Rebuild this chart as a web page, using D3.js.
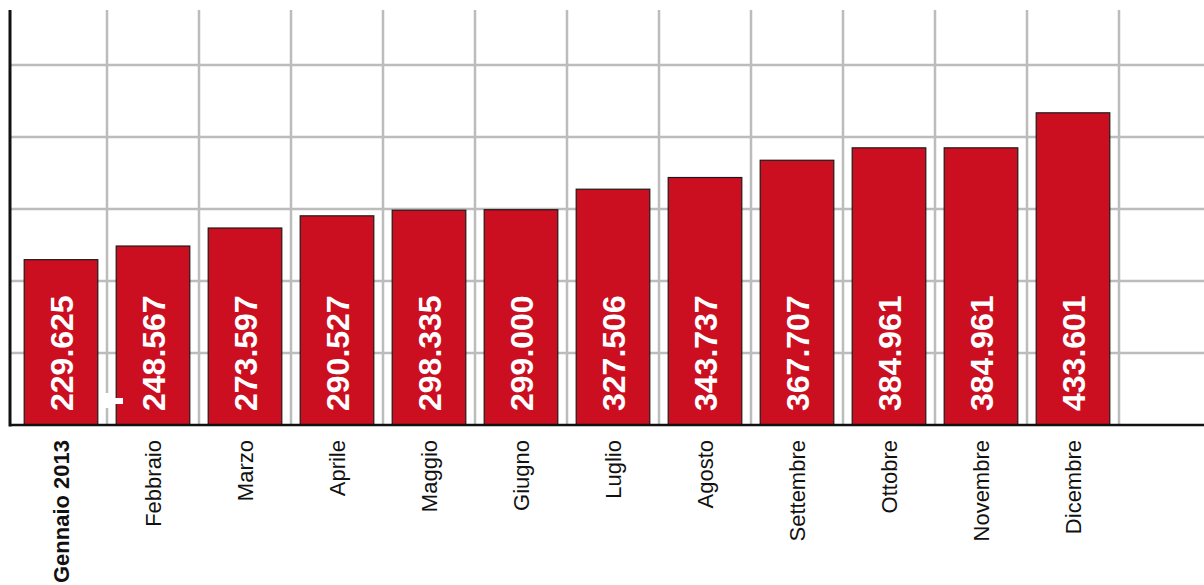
<!DOCTYPE html>
<html>
<head>
<meta charset="utf-8">
<script src="https://cdn.jsdelivr.net/npm/d3@7"></script>
<style>
  body { margin: 0; background: #fff; }
  svg { display: block; font-family: "Liberation Sans", Arial, Helvetica, sans-serif; }
</style>
</head>
<body>
<div id="chart"></div>
<script>
// dati mensili
const mesi = ["Gennaio 2013", "Febbraio", "Marzo", "Aprile", "Maggio", "Giugno",
    "Luglio", "Agosto", "Settembre", "Ottobre", "Novembre", "Dicembre"];
const valori = [229.625, 248.567, 273.597, 290.527, 298.335, 299.000,
    327.506, 343.737, 367.707, 384.961, 384.961, 433.601];
const etichette = ["229.625", "248.567", "273.597", "290.527", "298.335", "299.000",
    "327.506", "343.737", "367.707", "384.961", "384.961", "433.601"];
const gridY = [100, 200, 300, 400, 500];

const W = 1204, H = 585;
const plotLeft = 10, plotTop = 10, plotBottom = 425;

const svg = d3.select("#chart")
    .append("svg")
    .attr("width", W)
    .attr("height", H);

const x = d3.scaleBand()
    .domain(mesi)
    .range([15, 1119])
    .paddingInner(0.2)
    .paddingOuter(0.1);

const y = d3.scaleLinear()
    .domain([0, 576.4])
    .range([plotBottom, plotTop]);

// griglia orizzontale
svg.selectAll(".gy")
    .data(gridY)
    .enter()
    .append("line")
    .attr("x1", plotLeft)
    .attr("x2", W)
    .attr("y1", d => y(d))
    .attr("y2", d => y(d))
    .attr("stroke", "#bcbcbc")
    .attr("stroke-width", 2.5);

// griglia verticale ai bordi delle bande
const step = x.step();
svg.selectAll(".gx")
    .data(mesi)
    .enter()
    .append("line")
    .attr("x1", (d, i) => x.range()[0] + step * (i + 1))
    .attr("x2", (d, i) => x.range()[0] + step * (i + 1))
    .attr("y1", plotTop)
    .attr("y2", plotBottom)
    .attr("stroke", "#bcbcbc")
    .attr("stroke-width", 2.5);

// barre
svg.selectAll(".bar")
    .data(valori)
    .enter()
    .append("rect")
    .attr("x", (d, i) => x(mesi[i]))
    .attr("y", d => y(d))
    .attr("width", x.bandwidth())
    .attr("height", d => plotBottom - y(d))
    .attr("fill", "#cc0e21")
    .attr("stroke", "#1a1a1a")
    .attr("stroke-width", 1.2);

// valori dentro le barre
svg.selectAll(".val")
    .data(etichette)
    .enter()
    .append("text")
    .attr("transform", (d, i) => `translate(${x(mesi[i]) + x.bandwidth() / 2},${plotBottom - 14}) rotate(-90)`)
    .attr("dy", "0.36em")
    .attr("text-anchor", "start")
    .attr("fill", "#fff")
    .attr("font-weight", "bold")
    .attr("font-size", "32px")
    .text(d => d);

// piccolo segno bianco (croce) tra gennaio e febbraio
const cx = x.range()[0] + step;
const croce = svg.append("g").attr("fill", "#fff");
croce.append("rect")
    .attr("x", cx - 4).attr("y", plotBottom - 32)
    .attr("width", 7).attr("height", 15);
croce.append("rect")
    .attr("x", cx - 6).attr("y", plotBottom - 27)
    .attr("width", 22).attr("height", 6);

// assi
svg.append("line")
    .attr("x1", plotLeft).attr("x2", plotLeft)
    .attr("y1", plotTop).attr("y2", plotBottom + 1.5)
    .attr("stroke", "#111").attr("stroke-width", 3);
svg.append("line")
    .attr("x1", plotLeft).attr("x2", W)
    .attr("y1", plotBottom).attr("y2", plotBottom)
    .attr("stroke", "#111").attr("stroke-width", 2.5);

// etichette mesi
svg.selectAll(".mese")
    .data(mesi)
    .enter()
    .append("text")
    .attr("transform", d => `translate(${x(d) + x.bandwidth() / 2},${plotBottom + 15}) rotate(-90)`)
    .attr("dy", "0.35em")
    .attr("text-anchor", "end")
    .attr("fill", "#111")
    .attr("font-size", "22px")
    .attr("font-weight", (d, i) => i === 0 ? "bold" : "normal")
    .text(d => d);
</script>
</body>
</html>
